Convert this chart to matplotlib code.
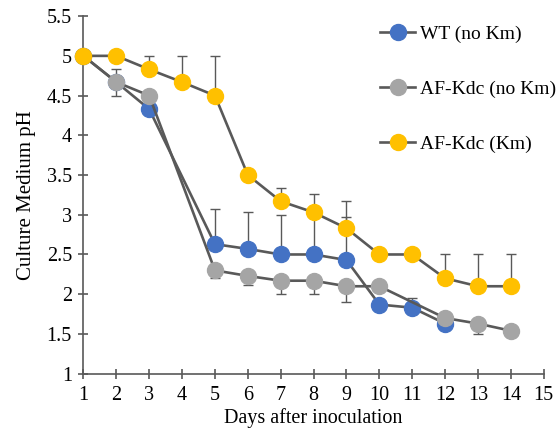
import matplotlib
matplotlib.use("Agg")
import matplotlib.pyplot as plt
import numpy as np

plt.rcParams['font.family'] = ['Liberation Serif', 'DejaVu Serif']

# 데이터
days_wt = [1, 2, 3, 5, 6, 7, 8, 9, 10, 11, 12]
wt = [5.0, 4.67, 4.33, 2.63, 2.57, 2.5, 2.5, 2.43, 1.87, 1.83, 1.63]
wt_up = [0, 0.17, 0, 0.44, 0.46, 0.5, 0.47, 0.54, 0, 0.12, 0]

days_kdc = [1, 2, 3, 5, 6, 7, 8, 9, 10, 12, 13, 14]
kdc = [5.0, 4.67, 4.5, 2.3, 2.23, 2.17, 2.17, 2.1, 2.1, 1.7, 1.63, 1.54]
kdc_down = [0, 0.17, 0, 0.1, 0.12, 0.17, 0.17, 0.2, 0, 0, 0.13, 0]

days_km = [1, 2, 3, 4, 5, 6, 7, 8, 9, 10, 11, 12, 13, 14]
kdc_km = [5.0, 5.0, 4.83, 4.67, 4.5, 3.5, 3.17, 3.03, 2.83, 2.5, 2.5, 2.2, 2.1, 2.1]
kdc_km_up = [0, 0, 0.17, 0.33, 0.5, 0, 0.17, 0.23, 0.34, 0, 0, 0.3, 0.4, 0.4]

labels = ["WT (no Km)", "AF-Kdc (no Km)", "AF-Kdc (Km)"]
colors = ["#4472C4", "#A5A5A5", "#FFC000"]

xticks = list(range(1, 16))
yticks = [1, 1.5, 2, 2.5, 3, 3.5, 4, 4.5, 5, 5.5]
ytick_labels = ["1", "1.5", "2", "2.5", "3", "3.5", "4", "4.5", "5", "5.5"]

# 그래프 그리기
fig = plt.figure(figsize=(5.56, 4.36), dpi=100)
ax = fig.add_axes([0.150, 0.143, 0.828, 0.820])

line_c = "#595959"

# 오차 막대
ax.errorbar(days_wt, wt, yerr=[np.zeros(len(wt)), wt_up], fmt='none',
            ecolor=line_c, elinewidth=1, capsize=3.5, zorder=1)
ax.errorbar(days_kdc, kdc, yerr=[kdc_down, np.zeros(len(kdc))], fmt='none',
            ecolor=line_c, elinewidth=1, capsize=3.5, zorder=1)
ax.errorbar(days_km, kdc_km, yerr=[np.zeros(len(kdc_km)), kdc_km_up], fmt='none',
            ecolor=line_c, elinewidth=1, capsize=3.5, zorder=1)

series = [(days_wt, wt), (days_kdc, kdc), (days_km, kdc_km)]
for i, (x, y) in enumerate(series):
    ax.plot(x, y, color=line_c, lw=1.9, marker='o', markersize=11.5,
            markerfacecolor=colors[i], markeredgecolor=colors[i],
            label=labels[i], clip_on=False, zorder=2 + i)

ax.set_xlim(1, 15)
ax.set_ylim(1, 5.5)
ax.set_xticks(xticks)
ax.set_yticks(yticks)
ax.set_yticklabels(ytick_labels)

for s in ["top", "right"]:
    ax.spines[s].set_visible(False)
for s in ["left", "bottom"]:
    ax.spines[s].set_color(line_c)
    ax.spines[s].set_linewidth(1.2)

ax.tick_params(direction='inout', length=6.5, width=1.2, color=line_c,
               labelsize=14.5, labelcolor='black')
ax.tick_params(axis='y', pad=5)
ax.tick_params(axis='x', pad=6)

ax.set_xlabel("Days after inoculation", fontsize=14.5, labelpad=2)
ax.set_ylabel("Culture Medium pH", fontsize=15, labelpad=8)

leg = ax.legend(loc='upper left', bbox_to_anchor=(380 / 556, 1 - 25 / 436),
                bbox_transform=fig.transFigure, frameon=False, fontsize=14,
                labelspacing=1.93, handlelength=1.8, handletextpad=0.26,
                borderpad=0, borderaxespad=0)

fig.savefig("out.png", dpi=100)
